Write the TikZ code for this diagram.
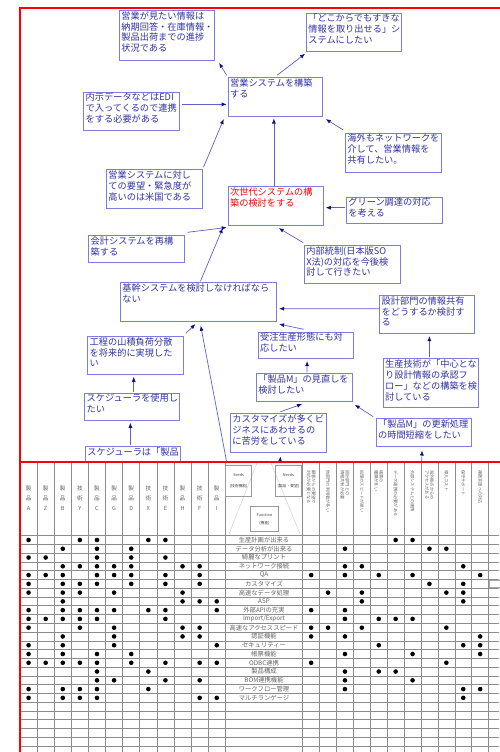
\documentclass[tikz,border=0pt]{standalone}
\usepackage{fontspec}
\setmainfont{Noto Sans CJK JP}
\usetikzlibrary{arrows.meta,calc}
\definecolor{mmline}{RGB}{95,95,210}
\definecolor{mmborder}{RGB}{125,125,220}
\definecolor{mmtext}{RGB}{50,50,165}
\definecolor{mmhead}{RGB}{15,15,125}
\definecolor{gridc}{RGB}{140,140,140}
\definecolor{labc}{RGB}{100,100,100}
\newcommand\mmbox[6]{%
  \node[mmb, anchor=north west] (#1) at (#2,#3) {\parbox[c][#5pt][t]{#4pt}{\vspace*{1.0pt}\raggedright\leftskip=2pt\relax #6}};}
\begin{document}
\begin{tikzpicture}[x=1pt, y=-1pt,
  mmb/.style={draw=mmborder, line width=0.8pt, inner sep=0pt, text=mmtext, font=\fontsize{9.2}{10.9}\selectfont},
  arr/.style={draw=mmline, line width=0.7pt, -{Latex[length=5pt,width=4pt,color=mmhead]}},
  grid/.style={draw=gridc, line width=0.6pt},
  rowlab/.style={text=labc, font=\fontsize{6.3}{7}\selectfont, inner sep=0pt},
  colhead/.style={text=labc, font=\fontsize{5.6}{9.8}\selectfont, align=center, inner sep=0pt},
  rhead/.style={text=labc, font=\fontsize{4.2}{5}\selectfont, align=left, inner sep=0pt, rotate=-90, anchor=west},
  fbox/.style={draw=gray!80, line width=0.6pt, text=black!75, font=\fontsize{3.8}{6}\selectfont, align=center, inner sep=0pt},
  dot/.style={fill=black}]
\useasboundingbox (0,0) rectangle (499,752);
\fill[white] (0,0) rectangle (499,752);

% ---------------- mind map ----------------
\begin{scope}
\clip (0,0) rectangle (499,461.5);
\mmbox{n1}{119}{10}{95.3}{50}{営業が見たい情報は\\納期回答・在庫情報・\\製品出荷までの進捗\\状況である}
\mmbox{n2}{306}{12.7}{95}{38.3}{「どこからでもすきな\\情報を取り出せる」シ\\ステムにしたい}
\mmbox{n3}{227.7}{77.3}{94.6}{38.4}{営業システムを構築\\する}
\mmbox{n4}{83.3}{91.7}{96}{38.3}{内示データなどはEDI\\で入ってくるので連携\\をする必要がある}
\mmbox{n5}{345}{132.7}{95.7}{39}{海外もネットワークを\\介して、営業情報を\\共有したい。}
\mmbox{n6}{106}{169.3}{95.7}{38.4}{営業システムに対し\\ての要望・緊急度が\\高いのは米国である}
\mmbox{n7}{227.7}{186}{95.6}{39}{\color{red}次世代システムの構\\築の検討をする}
\mmbox{n8}{346}{196.7}{95.7}{26.6}{グリーン調達の対応\\を考える}
\mmbox{n9}{88.3}{235}{96}{27.3}{会計システムを再構\\築する}
\mmbox{n10}{304}{245}{96}{37.7}{内部統制(日本版SO\\X法)の対応を今後検\\討して行きたい}
\mmbox{n11}{120}{282.3}{156}{38.4}{基幹システムを検討しなければなら\\ない}
\mmbox{n12}{379.3}{295}{95}{38.3}{設計部門の情報共有\\をどうするか検討す\\る}
\mmbox{n13}{257.7}{331.7}{95}{26.6}{受注生産形態にも対\\応したい}
\mmbox{n14}{87.3}{336}{95.4}{38}{工程の山積負荷分散\\を将来的に実現した\\い}
\mmbox{n15}{256}{373.3}{95.7}{27.4}{「製品M」の見直しを\\検討したい}
\mmbox{n16}{382.7}{358.3}{95.6}{49}{生産技術が「中心とな\\り設計情報の承認フ\\ロー」などの構築を検\\討している}
\mmbox{n17}{84.3}{392.7}{95}{27.3}{スケジューラを使用し\\たい}
\mmbox{n18}{230}{413.3}{95.7}{38.4}{カスタマイズが多くビ\\ジネスにあわせるの\\に苦労をしている}
\mmbox{n19}{375.7}{418.3}{95.3}{27.4}{「製品M」の更新処理\\の時間短縮をしたい}
\mmbox{n20}{85}{446}{95}{40}{スケジューラは「製品}
\coordinate (b11) at (226.7,462);
\coordinate (b18) at (280,462);
\coordinate (b19) at (421.7,462);

\draw[arr] ($(n3.north west)+(-1,-2)$) -- ($(n1.south east)+(4,2)$);
\draw[arr] ($(n3.north)+(1.7,-2)$) -- ($(n2.south west)+(-1,2)$);
\draw[arr] ($(n4.east)+(2,-6.8)$) -- ($(n3.west)+(-1,7.5)$);
\draw[arr] ($(n6.north east)+(1,-2)$) -- ($(n3.south west)+(-4,2.6)$);
\draw[arr] ($(n7.north)+(-2,0)$) -- ($(n3.south)+(-1.5,2)$);
\draw[arr] ($(n5.north west)+(-1.7,-2.7)$) -- ($(n3.south east)+(2.7,2.6)$);
\draw[arr] ($(n8.west)+(-1,-2.7)$) -- ($(n7.east)+(1.7,1.8)$);
\draw[arr] ($(n9.north east)+(2.4,-2.7)$) -- ($(n7.south west)+(-1,1.7)$);
\draw[arr] ($(n11.north)+(2,-1)$) -- ($(n7.south west)+(-5,2.3)$);
\draw[arr] ($(n10.north west)+(-0.7,-2.3)$) -- ($(n7.south)+(2.8,2.3)$);
\draw[arr] ($(n12.west)+(0,-5.8)$) -- ($(n11.east)+(2.3,6.8)$);
\draw[arr] ($(n13.north)+(-1.9,-2.4)$) -- ($(n11.south east)+(2.3,2.6)$);
\draw[arr] ($(n14.north east)+(2.3,-2.7)$) -- ($(n11.south)+(-3,2.6)$);
\draw[arr] (b11) -- ($(n11.south)+(2.3,4.3)$);
\draw[arr] ($(n17.north)+(1.5,-1)$) -- ($(n14.south)+(-1.7,2)$);
\draw[arr] ($(n20.north)+(-2.5,-1)$) -- ($(n17.south)+(-1.8,2)$);
\draw[arr] ($(n15.north)+(2.8,-1)$) -- ($(n13.south)+(1.5,2)$);
\draw[arr] ($(n18.north)+(2.2,-1.6)$) -- ($(n15.south)+(-2.2,2.6)$);
\draw[arr] ($(n19.north west)+(-2.4,-1.6)$) -- ($(n15.south east)+(2.3,3.3)$);
\draw[arr] ($(n16.north)+(-1.5,-1)$) -- ($(n12.south)+(2.2,2)$);
\draw[arr] (b18) -- ($(n18.south)+(2.2,4)$);
\draw[arr] (b19) -- ($(n19.south)+(-1.7,4)$);
\end{scope}

% ---------------- table ----------------
\foreach \k in {0,...,12} \draw[grid] ({20+\k*17.11},462) -- ({20+\k*17.11},752);
\foreach \k in {0,...,12} \draw[grid] ({302.7+\k*16.9},462) -- ({302.7+\k*16.9},752);
\foreach \k in {0,...,25} \draw[grid] (20,{535.6+\k*8.77}) -- (499,{535.6+\k*8.77});

% function header
\draw[gray!35, line width=0.5pt] (257,463) -- (229,534);
\draw[gray!35, line width=0.5pt] (271,463) -- (300,534);
\node[fbox, minimum width=26pt, minimum height=31.7pt] (seeds) at (238.6,480.9) {Seeds\\[5pt](技術機能)};
\node[fbox, minimum width=26.7pt, minimum height=31.7pt] (needs) at (288.4,480.9) {Needs\\[5pt](製品・要望)};
\node[fbox, minimum width=27.6pt, minimum height=25pt] (func) at (264.5,519.2) {Function\\[2pt](機能)};
\draw[gray!70, line width=0.8pt] (489.5,580.6) rectangle (506,587.6);

% left column headers
\foreach \i/\t in {1/{製\\品\\A},2/{製\\品\\Z},3/{製\\品\\B},4/{技\\術\\Y},5/{製\\品\\C},6/{製\\品\\G},7/{製\\品\\D},8/{技\\術\\X},9/{技\\術\\E},10/{製\\品\\H},11/{技\\術\\F},12/{製\\品\\I}}
  \node[colhead] (h\i) at ({20+(\i-0.5)*17.11},498) {\t};

% right column headers
\foreach \i/\t in {1/{顧客からの要望で\\対応が必要となる},2/{他部門の利用者が多い},3/{設計部門との\\情報共有が必要},4/{処理のスピードが遅い},5/{帳票の\\種類が多い},6/{データ連携の必要がある},7/{外部システムとの連携},8/{海外拠点からの\\アクセスがある},9/{導入コスト},10/{保守サポート},11/{複数言語への対応}}
  \node[rhead] (rh\i) at ({302.7+(\i-0.5)*16.9},470) {\t};

% row labels
\foreach \i/\t in {1/生産計画が出来る,2/データ分析が出来る,3/綺麗なプリント,4/ネットワーク接続,5/QA,6/カスタマイズ,7/高速なデータ処理,8/ASP,9/外部APIの充実,10/{Import/Export},11/高速なアクセススピード,12/認証機能,13/セキュリティー,14/帳票機能,15/ODBC連携,16/製品構成,17/BOM連携機能,18/ワークフロー管理,19/マルチランゲージ}
  \node[rowlab] (f\i) at (264,{535.6+(\i-0.5)*8.77}) {\t};

% dots, left columns
\foreach \r/\cs in {1/{1,4,5,8,9},2/{3,5,7},3/{1,2,5,7,9},4/{3,4,5,6,7,10,11},5/{1,2,3,5,6,7,9,11},6/{1,3,4,5,7,9,11},7/{1,3,4,6,10},8/{3,10,11,12},9/{1,3,4,5,6,8,9,12},10/{1,2,3,4,5,9},11/{1,4,6,10,11},12/{3,6,10,11},13/{1,3,6,12},14/{1,3,5,7},15/{1,2,3,4,5,7,9,11,12},16/{5,8},17/{5,6,9,11},18/{1,3,4,5,8},19/{1,3,4,5,11,12}}
  \foreach \c in \cs \fill[dot] ({20+(\c-0.5)*17.11},{535.6+(\r-0.5)*8.77}) circle[radius=2.3pt];
% dots, right columns
\foreach \r/\cs in {1/{6,7},2/{3,8,9},4/{3,4,10},5/{1,3,5,7,11},6/{8,10},7/{2,4,9,10},8/{4,10},9/{1,3},10/{3,5,6,7},11/{1,2,4,9},12/{1,3,11},13/{5,10,11},14/{3,7,11},15/{1,9},16/{3,5,6},17/{3,7},18/{3,10,11},19/{10}}
  \foreach \c in \cs \fill[dot] ({302.7+(\c-0.5)*16.9},{535.6+(\r-0.5)*8.77}) circle[radius=2.3pt];

% red frame
\draw[red, line width=1.5pt] (510,8) -- (20,8) -- (20,760);
\draw[red, line width=1.5pt] (20,462) -- (510,462);
\end{tikzpicture}
\end{document}
